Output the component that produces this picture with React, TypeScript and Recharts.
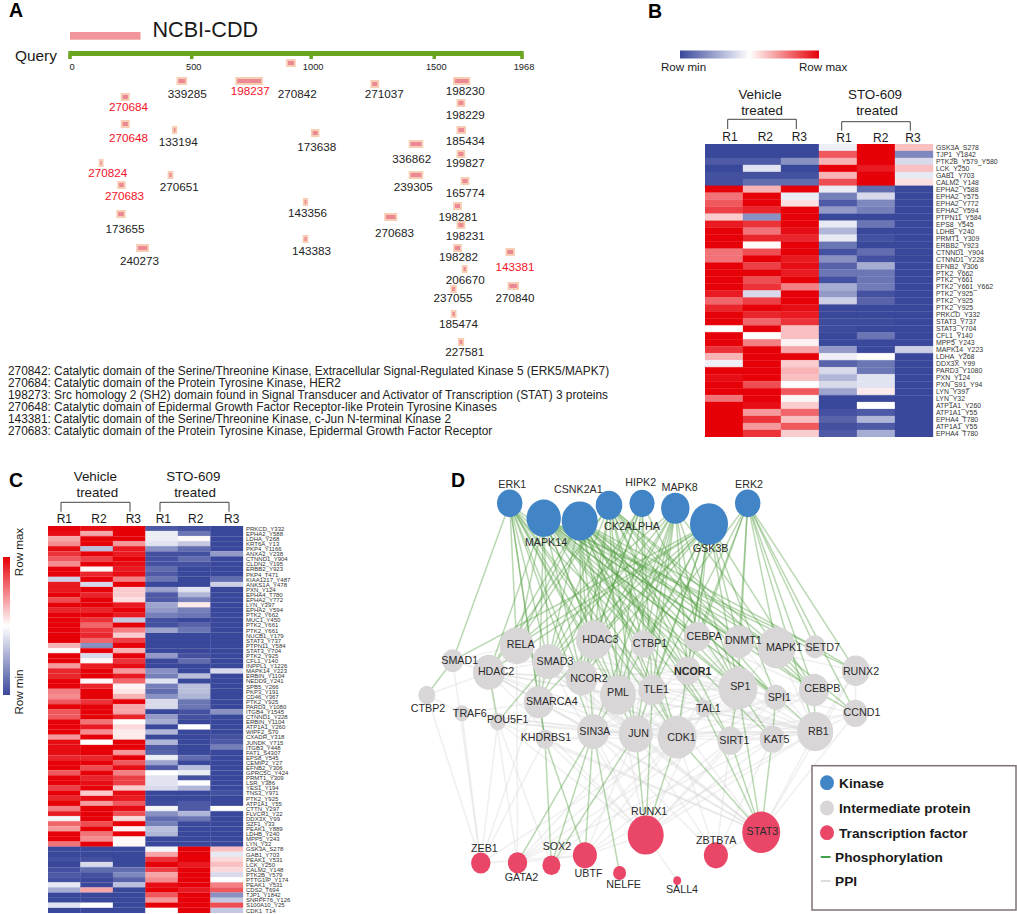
import { BarChart, Bar, Cell, XAxis, YAxis, ScatterChart, Scatter, ReferenceArea, ReferenceLine } from "recharts";

const FONT = "'Liberation Sans', Arial, sans-serif";

// panel A - CDD hits, positions in residues along the query
const rulerTicks = [0, 530, 1050, 1586, 1968];
const rulerLabels = ["0", "500", "1000", "1500", "1968"];
const hitIds = ["339285", "198237", "270842", "271037", "198230", "270684", "198229", "270648", "133194", "173638", "185434", "336862", "199827", "270824", "270651", "239305", "270683", "165774", "143356", "198281", "173655", "270683", "198231", "143383", "240273", "198282", "143381", "206670", "237055", "270840", "185474", "227581"];
const hitStart = [464, 720, 941, 1308, 1668, 221, 1683, 221, 444, 1049, 1683, 1475, 1683, 125, 425, 1475, 206, 1701, 1014, 1668, 202, 1368, 1683, 1013, 288, 1668, 1896, 1706, 1656, 1905, 1658, 1689];
const hitEnd = [510, 840, 983, 1346, 1743, 260, 1721, 260, 467, 1086, 1724, 1538, 1721, 146, 450, 1538, 242, 1739, 1037, 1706, 242, 1425, 1721, 1038, 344, 1706, 1937, 1731, 1683, 1955, 1683, 1716];
const hitTrack = [81, 81, 63, 84, 81, 97, 103, 124, 130, 133, 130, 144, 154, 163, 175, 175, 185, 181, 202, 206, 214, 217, 225, 239, 248, 248, 252, 269, 289, 286, 314, 342];
const hitLabelX = [510, 785, 989, 1368, 1721, 255, 1721, 255, 471, 1074, 1721, 1488, 1721, 164, 476, 1494, 237, 1721, 1034, 1689, 239, 1413, 1721, 1052, 303, 1692, 1938, 1721, 1668, 1938, 1692, 1719];
const hitLabelY = [93, 90, 93, 93, 90, 106, 114, 137, 141, 146, 140, 158, 162, 172, 186, 186, 195, 192, 212, 216, 228, 232, 235, 250, 260, 256, 266, 279, 297, 297, 323, 351];
const redHits = [1, 5, 7, 13, 16, 26];
const notes = [
  "270842: Catalytic domain of the Serine/Threonine Kinase, Extracellular Signal-Regulated Kinase 5 (ERK5/MAPK7)",
  "270684: Catalytic domain of the Protein Tyrosine Kinase, HER2",
  "198273: Src homology 2 (SH2) domain found in Signal Transducer and Activator of Transcription (STAT) 3 proteins",
  "270648: Catalytic domain of Epidermal Growth Factor Receptor-like Protein Tyrosine Kinases",
  "143381: Catalytic domain of the Serine/Threonine Kinase, c-Jun N-terminal Kinase 2",
  "270683: Catalytic domain of the Protein Tyrosine Kinase, Epidermal Growth Factor Receptor",
];

// panel B heatmap, columns are vehicle R1-R3 then STO-609 R1-R3
const sitesB = ["GSK3A_S278", "TJP1_Y1842", "PTK2B_Y579_Y580", "LCK_Y250", "GAB1_Y703", "CALM2_Y148", "EPHA2_Y588", "EPHA2_Y575", "EPHA2_Y772", "EPHA2_Y594", "PTPN11_Y584", "EPS8_Y545", "LDHB_Y240", "PRMT1_Y309", "ERBB2_Y923", "CTNND1_Y904", "CTNND1_Y228", "EFNB2_Y306", "PTK2_Y662", "PTK2_Y661", "PTK2_Y661_Y662", "PTK2_Y925", "PTK2_Y925", "PTK2_Y925", "PRKCD_Y332", "STAT3_Y737", "STAT3_Y704", "CFL1_Y140", "MPP5_Y243", "MAPK14_Y223", "LDHA_Y268", "DDX3X_Y99", "PARD3_Y1080", "PXN_Y124", "PXN_S91_Y94", "LYN_Y397", "LYN_Y32", "ATP1A1_Y260", "ATP1A1_Y55", "EPHA4_T780", "ATP1A1_Y55", "EPHA4_T780"];
const heatB = [
  [-1, -1, -1, -0.08, 1, 0.25], [-1, -1, -1, 0.65, 1, -0.65], [-0.9, -0.9, -0.6, 0.3, 1, -0.2], [-1, -0.15, -1, 1, 0.9, 0.25], [-0.95, -0.95, -0.95, 0.3, 1, -0.12], [-0.95, -0.8, -0.8, 0.7, 1, 0.12],
  [1, 0.3, 1, -0.1, -0.8, -1], [0.55, 1, -0.1, -0.7, -0.2, -1], [0.65, 1, 0.12, -0.9, -0.65, -1], [0.75, 0.85, 1, -0.55, -0.7, -1], [0.2, -0.6, 1, -1, -1, -1], [0.9, 0.8, 1, -0.12, -0.75, -1],
  [1, 0.55, 0.95, -0.4, -1, -1], [1, 0.85, 0.85, -0.12, -0.95, -1], [1, 0.02, 1, -0.75, -1, -1], [0.55, 0.7, 1, -0.95, -0.8, -1], [0.55, 1, 0.9, -0.6, -0.95, -1], [1, 0.75, 0.95, -0.85, -0.45, -1],
  [1, 1, 0.9, -0.75, -0.75, -1], [1, 0.7, 1, -0.95, -0.75, -1], [1, 0.8, 0.5, -0.45, -0.72, -1], [0.9, -0.2, 1, -0.55, -0.95, -1], [0.6, 0.75, 1, -0.25, -0.85, -1], [0.85, 1, 0.95, -1, -1, -1],
  [1, 0.85, 0.9, -1, -1, -1], [1, 0.6, 0.8, -0.98, -0.98, -1], [0, 1, 0.25, -0.98, -1, -1], [1, 0, 0.25, -1, -0.75, -1], [1, 0.5, 0.05, -1, -1, -1], [0.8, 1, 0.35, -0.55, -1, -0.25],
  [0.3, 1, 1, -0.08, 0, -1], [-0.08, 1, 0.2, -0.85, -0.75, -1], [1, 1, 0.3, -0.2, -0.75, -1], [0.95, 1, 0.25, -0.4, -0.15, -1], [1, 0.7, 0, -0.2, -0.15, -1], [1, 1, 0.65, -0.5, 0.08, -1],
  [0.55, 1, 0.03, -1, -1, -1], [1, 0.95, 0.2, -1, 0, -1], [1, 0.4, 0.6, -0.95, -0.9, -1], [1, 0.8, 0.25, -0.85, -0.4, -1], [1, 0.4, 0.65, -0.95, -0.9, -1], [1, 0.8, 0.2, -0.9, -0.45, -1],
];

// panel C heatmap
const sitesC = ["PRKCD_Y332", "EPHA2_Y588", "LDHA_Y268", "KRT6A_Y13", "PKP4_Y1166", "ANXA2_Y238", "CTNND1_Y904", "CLDN2_Y195", "ERBB2_Y923", "PKP4_T471", "KIAA1217_Y487", "ANKS1A_Y478", "PXN_Y124", "EPHA4_T780", "EPHA2_Y772", "LYN_Y397", "EPHA2_Y594", "PTK2_Y662", "MUC1_Y450", "PTK2_Y661", "PTK2_Y661", "NUCB1_Y179", "STAT3_Y737", "PTPN11_Y584", "STAT3_Y704", "PTK2_Y925", "CFL1_Y140", "INPPL1_Y1226", "MAPK14_Y223", "ERBIN_Y1104", "NEDD9_Y241", "SPB5_Y266", "PKP3_Y191", "CD46_Y367", "PTK2_Y925", "PARD3_Y1080", "ITGB4_Y1545", "CTNND1_Y228", "ERBIN_Y1104", "ATP1A1_Y260", "WIPF2_S70", "CXADR_Y318", "JUNDK_Y715", "ITGB3_Y448", "FAT1_S4307", "EPS8_Y545", "CEMIP2_Y27", "EFNB2_Y306", "GPRC5C_Y424", "PRMT1_Y309", "LSR_Y386", "YES1_Y194", "TNS3_Y971", "PTK2_Y925", "ATP1A1_Y55", "CTTN_Y297", "FLVCR1_Y22", "DDX3X_Y99", "SZF1_Y33", "PEAK1_Y889", "LDHB_Y240", "MPP5_Y243", "LYN_Y32", "GSK3A_S278", "GAB1_Y703", "PEAK1_Y531", "LCK_Y250", "CALM2_Y148", "PTK2B_Y579", "PTTG1IP_Y174", "PEAK1_Y531", "CDS2_T694", "TJP1_Y1842", "SNRPF76_Y126", "S100A10_Y25", "CDK1_T14"];
const heatC = [
  [1, 0.95, 1, -0.9, -0.95, -1], [0.95, 0.35, 1, -0.1, -0.75, -1], [0.35, 1, 1, -0.1, 0.02, -1], [0.45, 1, 0.4, -0.15, -0.3, -1], [0.95, -0.35, 0.9, -0.6, -0.8, -1], [0.8, 1, 0.9, -0.95, -0.95, -0.55],
  [0.65, 0.75, 1, -0.95, -0.8, -1], [0.45, 1, 0.95, -0.95, -0.95, -1], [1, 0.03, 0.9, -0.8, -1, -1], [1, 0.85, 0.95, -0.9, -1, -1], [-0.25, 1, 0.5, -0.75, -1, -0.8], [0.9, -0.2, 1, -1, -1, -0.25],
  [0.9, 1, 0.2, -0.5, -0.15, -1], [1, 0.85, 0.2, -0.9, -0.4, -1], [0.7, 1, 0.12, -0.9, -0.7, -1], [1, 1, 0.9, -0.5, 0.08, -1], [0.85, 0.85, 1, -0.55, -0.7, -1], [1, 1, 0.9, -0.7, -0.75, -1],
  [1, 0.8, -0.3, -0.95, -1, -1], [1, 0.6, 1, -0.95, -0.85, -1], [1, 0.8, 0.5, -0.5, -0.75, -1], [1, 0.85, 0.2, -1, -1, -1], [1, 0.6, 0.75, -1, -1, -1], [0.3, -0.6, 1, -1, -1, -1],
  [0, 1, 0.3, -1, -1, -1], [1, -0.2, 1, -0.55, -0.95, -1], [1, 0.03, 0.8, -1, -0.8, -1], [0.4, 0.9, 0.95, -1, -1, -1], [0.85, 1, 0.4, -0.6, -1, -0.2], [0.85, 1, 0.9, -0.7, -0.35, -1],
  [1, 0.03, 0.6, -0.15, -1, -1], [1, 0.85, 0.05, -0.7, -0.35, -1], [0.5, 1, 0.1, -0.8, -0.35, -1], [0.45, 1, 0.3, -0.6, -0.4, -1], [0.65, 0.8, 1, -0.2, -0.75, -1], [1, 1, 0.35, -0.2, -0.75, -1],
  [0.65, 1, 0.35, -1, -0.95, -0.6], [0.65, 1, 0.85, -0.55, -0.95, -1], [1, 0.55, 0, -0.45, -1, -1], [1, 0.9, 0.15, -1, 0, -1], [1, 0.45, 0.08, -0.4, -1, -1], [0.4, 1, 0.08, -1, -1, -0.95],
  [0.95, 0, 1, -0.4, -1, -0.9], [0.95, 1, 1, -0.9, -1, -0.7], [0.95, 1, 0.4, -0.85, -1, -1], [0.85, 0.85, 1, -0.1, -0.8, -1], [1, 1, 0.65, -0.5, -1, -1], [1, 0.7, 0.95, -0.9, -0.35, -1],
  [0.65, 1, 0.5, 0, -0.1, -1], [1, 0.85, 0.75, -0.15, -0.95, -1], [1, 0.95, 0.75, -0.15, 0, -1], [0.75, 1, 0.2, -0.2, -0.4, -1], [1, 0.2, 0.95, -1, -1, -0.95], [0.85, 0.95, 0.9, -1, -1, -1],
  [1, 0.4, 0.65, -0.97, -0.9, -1], [0.5, 1, 0.95, -0.05, -0.9, 0], [0.9, 1, 0.7, -0.6, -0.4, -1], [-0.05, 1, 0.15, -0.8, -0.75, -1], [0.6, 0.7, 1, -0.7, -1, -1], [0.4, 1, 0.05, -0.35, -1, -1],
  [1, 0.55, 1, -0.4, -1, -1], [1, 0.45, 0.03, -1, -1, -1], [0.55, 1, 0.03, -1, -1, -1],
  [-1, -1, -1, -0.05, 1, 0.25], [-1, -1, -1, 0.35, 1, -0.12], [-0.95, -0.95, -1, 0.8, 1, 0.15], [-1, -0.2, -1, 1, 0.9, 0.25], [-0.95, -0.8, -0.8, 0.75, 1, 0.15], [-0.9, -0.95, -0.65, 0.35, 1, -0.2],
  [-0.95, -1, -0.85, 0.45, 1, 0], [-0.12, -1, -0.35, 0.95, 1, 0.5], [-0.45, 0.35, -1, 1, 0.9, 0.65], [-1, -1, -1, 0.65, 1, -0.6], [-1, -1, -1, 0.4, 1, -0.3], [-0.15, 0, -1, 1, 1, 0.7], [-1, -1, -1, 0, 1, -0.3],
];

// panel D network layout
const kinases = ["ERK1", "MAPK14", "CSNK2A1", "CK2ALPHA", "HIPK2", "MAPK8", "GSK3B", "ERK2"];
const kinaseX = [509.7, 543.7, 579.7, 609, 642, 675.3, 709, 747.7];
const kinaseY = [503.3, 518.3, 521, 505.3, 503.3, 508.3, 524, 503.3];
const kinaseR = [12.7, 17.2, 18, 13.3, 12.5, 14.2, 19, 12.7];
const kinaseLabelX = [512.3, 546, 578.3, 632, 640.7, 679.7, 710.7, 749];
const kinaseLabelY = [484, 541.7, 489.3, 525.7, 481.7, 487.3, 548, 484];

const proteins = ["SMAD1", "RELA", "HDAC2", "SMAD3", "HDAC3", "CTBP1", "CEBPA", "DNMT1", "MAPK1", "SETD7", "RUNX2", "NCOR2", "NCOR1", "PML", "TLE1", "SP1", "SPI1", "CEBPB", "SMARCA4", "CTBP2", "TRAF6", "POU5F1", "TAL1", "CCND1", "KHDRBS1", "SIN3A", "JUN", "CDK1", "SIRT1", "KAT5", "RB1"];
const proteinX = [452.7, 516.7, 489, 548.3, 594, 643.3, 697.3, 739, 776.7, 815, 855.7, 581.7, 687.7, 618, 652.4, 738, 775.8, 814, 538.8, 426.8, 461.9, 497.8, 703.6, 855.4, 545, 593.2, 635.8, 677.2, 730.4, 772.2, 815.2];
const proteinY = [660.7, 645.7, 672.3, 661.7, 640, 644, 636.7, 641.7, 647.7, 646.7, 670.7, 678, 670.7, 695, 690, 688.3, 697.3, 690, 702, 695, 713.3, 721.7, 708.3, 713.3, 739.3, 731.7, 734, 737.3, 740.7, 739, 731.7];
const proteinR = [10.5, 17, 16, 16, 18, 12.5, 13.5, 15, 19, 10.5, 14, 16, 13, 18, 14, 19.5, 11.5, 15, 15, 8.5, 7.5, 8, 8, 12.5, 9, 16, 17, 19.5, 13, 12.5, 18];
const proteinLabelX = [459.7, 520.7, 496, 555, 600.3, 650, 704.3, 743.3, 784, 822.7, 861, 589, 692.7, 618, 656.3, 740.3, 779.3, 822.3, 551.8, 428, 469.8, 507.7, 708.4, 862, 545.9, 594.8, 638.6, 681.5, 734.4, 776.6, 818.4];
const proteinLabelY = [660.3, 644.3, 671, 660.7, 638.7, 643, 636.3, 640.3, 646.7, 646.7, 670.7, 678, 670.7, 691.7, 689.3, 686, 697.3, 688.3, 700.7, 708.3, 713.3, 719, 708.3, 712.3, 736.7, 730.7, 732.7, 736.7, 740, 738.7, 731];

const factors = ["RUNX1", "STAT3", "ZBTB7A", "UBTF", "SOX2", "GATA2", "ZEB1", "NELFE", "SALL4"];
const factorX = [645.7, 761.2, 715.9, 584.9, 551.4, 517.5, 480.8, 619.6, 677.2];
const factorY = [835, 832.3, 855.3, 855.3, 865.3, 862.7, 863, 873, 880.7];
const factorR = [18, 19, 12, 12, 9, 9.7, 9.7, 6.5, 4];
const factorLabelX = [649.2, 762.4, 716.3, 588.5, 556.9, 521.5, 484.4, 623.6, 682];
const factorLabelY = [810.7, 830.7, 840.3, 873.3, 846.3, 876.7, 847.7, 884.3, 889];

const phosphoEdges = [
  "ERK1 SMAD1", "ERK1 RELA", "ERK1 SMAD3", "ERK1 HDAC3", "ERK1 NCOR2", "ERK1 PML", "ERK1 SMARCA4", "ERK1 TLE1", "ERK1 CTBP1", "ERK1 SIN3A", "ERK1 JUN", "ERK1 SP1", "ERK1 CDK1", "ERK1 KHDRBS1",
  "MAPK14 HDAC2", "MAPK14 RELA", "MAPK14 SMAD3", "MAPK14 HDAC3", "MAPK14 NCOR2", "MAPK14 PML", "MAPK14 TLE1", "MAPK14 CTBP1", "MAPK14 CEBPA", "MAPK14 DNMT1", "MAPK14 MAPK1", "MAPK14 SP1", "MAPK14 CEBPB", "MAPK14 SPI1", "MAPK14 TAL1", "MAPK14 SMARCA4", "MAPK14 RUNX2", "MAPK14 SETD7", "MAPK14 NCOR1", "MAPK14 KAT5",
  "CSNK2A1 RELA", "CSNK2A1 SMAD3", "CSNK2A1 HDAC3", "CSNK2A1 HDAC2", "CSNK2A1 PML", "CSNK2A1 TLE1", "CSNK2A1 CTBP1", "CSNK2A1 NCOR1", "CSNK2A1 CEBPA", "CSNK2A1 DNMT1", "CSNK2A1 MAPK1", "CSNK2A1 SETD7", "CSNK2A1 SP1", "CSNK2A1 CEBPB", "CSNK2A1 SIN3A", "CSNK2A1 JUN", "CSNK2A1 CDK1", "CSNK2A1 RB1", "CSNK2A1 SPI1", "CSNK2A1 SIRT1", "CSNK2A1 NCOR2", "CSNK2A1 TAL1",
  "CK2ALPHA RELA", "CK2ALPHA SMAD3", "CK2ALPHA HDAC3", "CK2ALPHA NCOR2", "CK2ALPHA PML", "CK2ALPHA CTBP1", "CK2ALPHA NCOR1", "CK2ALPHA DNMT1", "CK2ALPHA MAPK1", "CK2ALPHA SP1", "CK2ALPHA SPI1", "CK2ALPHA CEBPB", "CK2ALPHA SIRT1", "CK2ALPHA HDAC2", "CK2ALPHA CDK1", "CK2ALPHA JUN",
  "HIPK2 SMAD3", "HIPK2 HDAC3", "HIPK2 CTBP1", "HIPK2 TLE1", "HIPK2 PML", "HIPK2 SP1", "HIPK2 SMARCA4", "HIPK2 NCOR2",
  "MAPK8 RELA", "MAPK8 HDAC3", "MAPK8 NCOR2", "MAPK8 CTBP1", "MAPK8 CEBPA", "MAPK8 NCOR1", "MAPK8 MAPK1", "MAPK8 TLE1", "MAPK8 SP1", "MAPK8 JUN", "MAPK8 SMAD3", "MAPK8 PML", "MAPK8 SIN3A",
  "GSK3B SMAD1", "GSK3B RELA", "GSK3B SMAD3", "GSK3B HDAC3", "GSK3B CTBP1", "GSK3B NCOR1", "GSK3B CEBPA", "GSK3B DNMT1", "GSK3B TLE1", "GSK3B SP1", "GSK3B SPI1", "GSK3B CEBPB", "GSK3B JUN", "GSK3B HDAC2", "GSK3B NCOR2", "GSK3B PML", "GSK3B CDK1", "GSK3B SMARCA4",
  "ERK2 CTBP1", "ERK2 CEBPA", "ERK2 NCOR1", "ERK2 DNMT1", "ERK2 MAPK1", "ERK2 SETD7", "ERK2 RUNX2", "ERK2 CEBPB", "ERK2 SP1", "ERK2 CCND1", "ERK2 RB1", "ERK2 TLE1",
  "SMAD1 CTBP2", "SMAD3 POU5F1", "HDAC2 POU5F1", "SMARCA4 KHDRBS1", "SMAD3 SMARCA4", "PML SIN3A", "TLE1 CDK1", "SP1 SIRT1", "SP1 KAT5", "SPI1 KAT5", "CEBPB RB1", "MAPK1 CCND1", "MAPK1 CEBPB", "SETD7 RUNX2", "CEBPB CCND1",
  "SIN3A GATA2", "SIN3A SOX2", "KHDRBS1 SOX2", "KHDRBS1 UBTF", "SIN3A UBTF", "SIN3A NELFE", "JUN SOX2", "JUN RUNX1", "TLE1 RUNX1", "CDK1 STAT3", "SIRT1 STAT3", "KAT5 STAT3", "TAL1 STAT3", "SP1 STAT3", "CDK1 RUNX1",
];

const ppiEdges = [
  "SMAD1 HDAC2", "SMAD1 RELA", "SMAD1 SMAD3", "RELA HDAC2", "RELA SMAD3", "RELA NCOR2", "HDAC2 SMAD3", "HDAC2 NCOR2", "HDAC2 PML", "HDAC2 SMARCA4", "HDAC2 SIN3A", "HDAC2 CDK1", "HDAC3 NCOR2", "HDAC3 NCOR1", "HDAC3 SIN3A", "HDAC3 TLE1", "NCOR2 SIN3A", "NCOR1 SIN3A", "NCOR1 NCOR2", "NCOR1 CDK1", "NCOR1 SP1",
  "CEBPA CEBPB", "CEBPA SP1", "CEBPA RUNX2", "DNMT1 SP1", "DNMT1 SIRT1", "DNMT1 RB1", "MAPK1 RB1", "MAPK1 SP1", "RUNX2 CEBPB", "RUNX2 RB1", "RUNX2 CCND1", "SP1 RB1", "SP1 CDK1", "SP1 JUN", "SP1 SPI1", "CEBPB SIRT1", "CCND1 CDK1", "CCND1 RB1", "RB1 CDK1", "RB1 KAT5", "RB1 SIRT1", "RB1 JUN",
  "SMARCA4 SIN3A", "SMARCA4 RB1", "SMARCA4 JUN", "CTBP2 HDAC2", "CTBP2 ZEB1", "CTBP2 TRAF6", "TRAF6 ZEB1", "TRAF6 JUN", "TRAF6 CDK1", "POU5F1 SOX2", "POU5F1 STAT3", "POU5F1 ZEB1", "POU5F1 RUNX1", "KHDRBS1 STAT3", "KHDRBS1 ZEB1", "KHDRBS1 RUNX1", "SIN3A STAT3", "SIN3A RUNX1", "SIN3A ZBTB7A", "JUN STAT3", "JUN ZBTB7A", "JUN GATA2", "JUN UBTF", "CDK1 UBTF", "CDK1 ZBTB7A", "CDK1 ZEB1", "CDK1 SOX2", "SIRT1 ZBTB7A", "SIRT1 RUNX1", "SIRT1 UBTF", "KAT5 RUNX1", "KAT5 GATA2", "KAT5 ZBTB7A", "RB1 STAT3", "RB1 RUNX1", "RB1 UBTF", "CCND1 STAT3", "RUNX2 STAT3", "SMAD3 STAT3", "SMAD3 RUNX1", "SMAD3 ZEB1", "HDAC2 STAT3", "HDAC2 RUNX1", "HDAC2 GATA2", "RUNX1 SALL4", "RUNX1 UBTF", "GATA2 UBTF", "ZEB1 UBTF", "SMAD1 ZEB1", "RELA STAT3", "RELA GATA2", "PML RUNX1", "TLE1 STAT3", "TAL1 GATA2", "TAL1 RUNX1", "SPI1 RUNX1", "SPI1 GATA2", "ZBTB7A STAT3",
  "RELA SP1", "RELA JUN", "RELA CDK1", "RELA RB1", "HDAC2 JUN", "HDAC2 RB1", "HDAC2 SP1", "SMAD3 JUN", "SMAD3 SP1", "SMAD3 CDK1", "SMAD3 RB1", "NCOR2 RB1", "NCOR2 JUN", "PML SP1", "PML RB1", "PML JUN", "PML CDK1", "TLE1 SP1", "TLE1 JUN", "HDAC3 SP1", "HDAC3 RB1", "HDAC3 CDK1", "CTBP1 SP1", "CTBP1 SIN3A", "CTBP1 JUN", "CEBPA JUN", "CEBPA CDK1", "CEBPA RB1", "DNMT1 CDK1", "DNMT1 JUN", "SPI1 JUN", "CEBPB JUN", "CEBPB CDK1", "SIN3A JUN", "SIN3A RB1", "SIN3A SP1", "JUN CDK1", "CDK1 SIRT1", "SIRT1 KAT5", "KHDRBS1 JUN", "KHDRBS1 CDK1", "TRAF6 SMARCA4", "POU5F1 SIN3A", "POU5F1 JUN", "CCND1 SP1", "CCND1 SIRT1",
];

const HEAT_RED = [230, 0, 8];
const HEAT_BLUE = [58, 72, 155];
const heatColor = (v: number) => {
  const end = v >= 0 ? HEAT_RED : HEAT_BLUE;
  const t = Math.abs(v);
  const c = end.map((e) => Math.round(255 + (e - 255) * t));
  return `rgb(${c[0]},${c[1]},${c[2]})`;
};

const columns = ["c0", "c1", "c2", "c3", "c4", "c5"];

function Heatmap({ sites, heat, left, top, width, height, labelWidth, fontSize }: any) {
  const table = sites.map((_: string, i: number) => ({ row: i, c0: 1, c1: 1, c2: 1, c3: 1, c4: 1, c5: 1 }));
  return (
    <div style={{ position: "absolute", left, top }}>
      <BarChart width={width + labelWidth} height={height} data={table} layout="vertical" barCategoryGap={0} margin={{ top: 0, right: 0, bottom: 0, left: 0 }}>
        <XAxis type="number" domain={[0, 6]} hide />
        <YAxis
          type="category"
          dataKey="row"
          orientation="right"
          width={labelWidth}
          interval={0}
          axisLine={false}
          tickLine={false}
          tickSize={0}
          tickMargin={3}
          tick={{ fontSize, fill: "#333", fontFamily: FONT, textAnchor: "start" }}
          tickFormatter={(i: number) => sites[i]}
        />
        {columns.map((key, j) => (
          <Bar key={key} dataKey={key} stackId="heat" isAnimationActive={false}>
            {heat.map((row: number[], i: number) => (
              <Cell key={i} fill={heatColor(row[j])} stroke={heatColor(row[j])} strokeWidth={0.3} />
            ))}
          </Bar>
        ))}
      </BarChart>
    </div>
  );
}

function labelShape(size: number, color: any) {
  return (p: any) => (
    <text x={p.cx} y={p.cy} textAnchor="middle" dominantBaseline="central" fontSize={size} fontFamily={FONT} fontWeight={p.payload.name === "NCOR1" ? 700 : 400} fill={color(p.payload)}>
      {p.payload.name}
    </text>
  );
}

const hitLabels = hitIds.map((name, i) => ({ name, x: hitLabelX[i], y: hitLabelY[i], red: redHits.includes(i) }));
const rulerPoints = rulerTicks.map((x) => ({ x, y: 0 }));

function PanelA() {
  return (
    <>
      <div style={{ position: "absolute", left: 0, top: 45 }}>
        <ScatterChart width={540} height={32} margin={{ top: 0, right: 18, bottom: 0, left: 70 }}>
          <XAxis
            type="number"
            dataKey="x"
            domain={[0, 1968]}
            ticks={rulerTicks}
            interval={0}
            height={18}
            axisLine={false}
            tickLine={false}
            tickSize={0}
            tickMargin={4}
            tick={{ fontSize: 9.3, fill: "#222", fontFamily: FONT, dx: 2 }}
            tickFormatter={(v: number) => rulerLabels[rulerTicks.indexOf(v)]}
          />
          <YAxis type="number" dataKey="y" domain={[0, 14]} reversed hide />
          <ReferenceArea x1={0} x2={1968} y1={6} y2={11} fill="#6aa51f" fillOpacity={1} stroke="none" />
          {rulerTicks.map((t) => (
            <ReferenceLine key={t} segment={[{ x: t, y: 6 }, { x: t, y: 14 }]} stroke="#6aa51f" strokeWidth={3.5} />
          ))}
          <Scatter data={rulerPoints} isAnimationActive={false} shape={() => <g />} />
        </ScatterChart>
      </div>
      <div style={{ position: "absolute", left: 0, top: 0 }}>
        <ScatterChart width={540} height={365} margin={{ top: 0, right: 18, bottom: 0, left: 70 }}>
          <XAxis type="number" dataKey="x" domain={[0, 1968]} hide />
          <YAxis type="number" dataKey="y" domain={[0, 365]} reversed hide />
          {hitIds.map((id, i) => (
            <ReferenceArea key={`o${i}`} x1={hitStart[i]} x2={hitEnd[i]} y1={hitTrack[i] - 4} y2={hitTrack[i] + 4} fill="#f7cdb4" fillOpacity={1} stroke="none" />
          ))}
          {hitIds.map((id, i) => (
            <ReferenceArea key={`i${i}`} x1={hitStart[i] + 8} x2={hitEnd[i] - 8} y1={hitTrack[i] - 2} y2={hitTrack[i] + 2} fill="#ec8794" fillOpacity={1} stroke="none" />
          ))}
          <Scatter data={hitLabels} isAnimationActive={false} shape={labelShape(11.7, (d: any) => (d.red ? "#f4111f" : "#222"))} />
        </ScatterChart>
      </div>
    </>
  );
}

const allNodes: Record<string, { x: number; y: number }> = {};
kinases.forEach((n, i) => (allNodes[n] = { x: kinaseX[i], y: kinaseY[i] }));
proteins.forEach((n, i) => (allNodes[n] = { x: proteinX[i], y: proteinY[i] }));
factors.forEach((n, i) => (allNodes[n] = { x: factorX[i], y: factorY[i] }));

const kinaseNodes = kinases.map((name, i) => ({ name, x: kinaseX[i], y: kinaseY[i], r: kinaseR[i] }));
const proteinNodes = proteins.map((name, i) => ({ name, x: proteinX[i], y: proteinY[i], r: proteinR[i] }));
const factorNodes = factors.map((name, i) => ({ name, x: factorX[i], y: factorY[i], r: factorR[i] }));
const nodeLabels = [
  ...kinases.map((name, i) => ({ name, x: kinaseLabelX[i], y: kinaseLabelY[i] })),
  ...proteins.map((name, i) => ({ name, x: proteinLabelX[i], y: proteinLabelY[i] })),
  ...factors.map((name, i) => ({ name, x: factorLabelX[i], y: factorLabelY[i] })),
];

const nodeShape = (color: string) => (p: any) => <ellipse cx={p.cx} cy={p.cy} rx={p.payload.r} ry={p.payload.r * 1.09} fill={color} />;

function edgeLines(edges: string[], stroke: string, opacity: number, width: number) {
  return edges.map((e, i) => {
    const [a, b] = e.split(" ");
    return (
      <ReferenceLine
        key={`${e}-${i}`}
        segment={[
          { x: allNodes[a].x, y: allNodes[a].y },
          { x: allNodes[b].x, y: allNodes[b].y },
        ]}
        stroke={stroke}
        strokeOpacity={opacity}
        strokeWidth={width}
      />
    );
  });
}

function PanelD() {
  return (
    <div style={{ position: "absolute", left: 400, top: 460 }}>
      <ScatterChart width={617} height={454} margin={{ top: 0, right: 0, bottom: 0, left: 0 }}>
        <XAxis type="number" dataKey="x" domain={[400, 1017]} hide />
        <YAxis type="number" dataKey="y" domain={[460, 914]} reversed hide />
        {edgeLines(ppiEdges, "#d9d9d9", 0.4, 1.6)}
        {edgeLines(phosphoEdges, "#4f9e3f", 0.4, 1.5)}
        <Scatter data={kinaseNodes} isAnimationActive={false} shape={nodeShape("#4285c6")} />
        <Scatter data={proteinNodes} isAnimationActive={false} shape={nodeShape("#d8d6d7")} />
        <Scatter data={factorNodes} isAnimationActive={false} shape={nodeShape("#ea4768")} />
        <Scatter data={nodeLabels} isAnimationActive={false} shape={labelShape(10.7, () => "#2b2b2b")} />
      </ScatterChart>
    </div>
  );
}

function T({ x, y, size, anchor = "start", weight = 400, color = "#1a1a1a", rotate, children }: any) {
  return (
    <text
      x={x}
      y={y}
      fontSize={size}
      textAnchor={anchor}
      fontWeight={weight}
      fill={color}
      fontFamily={FONT}
      dominantBaseline="central"
      transform={rotate ? `rotate(${rotate} ${x} ${y})` : undefined}
    >
      {children}
    </text>
  );
}

function Bracket({ x1, x2, y1, y2 }: any) {
  return <path d={`M${x1} ${y2}V${y1}H${x2}V${y2}`} fill="none" stroke="#444" strokeWidth={1} />;
}

function Overlay() {
  return (
    <svg width={1017} height={914} style={{ position: "absolute", left: 0, top: 0, pointerEvents: "none" }}>
      <defs>
        <linearGradient id="barB" x1="0" y1="0" x2="1" y2="0">
          <stop offset="0" stopColor="rgb(58,72,155)" />
          <stop offset="0.5" stopColor="#fff" />
          <stop offset="1" stopColor="rgb(230,0,8)" />
        </linearGradient>
        <linearGradient id="barC" x1="0" y1="0" x2="0" y2="1">
          <stop offset="0" stopColor="rgb(230,0,8)" />
          <stop offset="0.5" stopColor="#fff" />
          <stop offset="1" stopColor="rgb(58,72,155)" />
        </linearGradient>
      </defs>

      <T x={9} y={10} size={19.5} weight={700} color="#000">A</T>
      <rect x={70} y={32} width={70.5} height={7.7} fill="#f0959a" />
      <T x={152.5} y={29.5} size={21.6}>NCBI-CDD</T>
      <T x={15} y={55.7} size={15.4}>Query</T>
      {notes.map((n, i) => (
        <T key={i} x={8} y={371 + i * 12} size={11.85} color="#222">{n}</T>
      ))}

      <T x={648} y={11} size={19.5} weight={700} color="#000">B</T>
      <rect x={680} y={50.5} width={139} height={8} fill="url(#barB)" />
      <T x={661} y={66} size={11.6}>Row min</T>
      <T x={799} y={66} size={11.6}>Row max</T>
      <T x={760} y={94} size={13.4} anchor="middle">Vehicle</T>
      <T x={762} y={110.7} size={13.4} anchor="middle">treated</T>
      <T x={875} y={94} size={13.4} anchor="middle">STO-609</T>
      <T x={877} y={110.7} size={13.4} anchor="middle">treated</T>
      <Bracket x1={727.7} x2={796.3} y1={119.3} y2={129} />
      <Bracket x1={841.7} x2={910.3} y1={121.7} y2={130.7} />
      <T x={730} y={136.7} size={12} anchor="middle">R1</T>
      <T x={765.3} y={136.7} size={12} anchor="middle">R2</T>
      <T x={799.3} y={136.7} size={12} anchor="middle">R3</T>
      <T x={844} y={138} size={12} anchor="middle">R1</T>
      <T x={880.7} y={138} size={12} anchor="middle">R2</T>
      <T x={913} y={138} size={12} anchor="middle">R3</T>

      <T x={9} y={480} size={19.5} weight={700} color="#000">C</T>
      <rect x={3} y={557} width={7} height={138} fill="url(#barC)" />
      <T x={18} y={552} size={11.6} anchor="middle" rotate={-90}>Row max</T>
      <T x={18} y={692} size={11.6} anchor="middle" rotate={-90}>Row min</T>
      <T x={95.3} y={476} size={13.4} anchor="middle">Vehicle</T>
      <T x={97.3} y={492.7} size={13.4} anchor="middle">treated</T>
      <T x={193.3} y={476} size={13.4} anchor="middle">STO-609</T>
      <T x={195} y={492.7} size={13.4} anchor="middle">treated</T>
      <Bracket x1={61} x2={130} y1={502.3} y2={511.7} />
      <Bracket x1={160} x2={229} y1={502.3} y2={511.7} />
      <T x={64.3} y={519} size={12} anchor="middle">R1</T>
      <T x={99} y={519} size={12} anchor="middle">R2</T>
      <T x={133.3} y={519} size={12} anchor="middle">R3</T>
      <T x={163.3} y={519} size={12} anchor="middle">R1</T>
      <T x={195.7} y={519} size={12} anchor="middle">R2</T>
      <T x={231.7} y={519} size={12} anchor="middle">R3</T>

      <T x={451} y={480} size={19.5} weight={700} color="#000">D</T>

      <rect x={812} y={765.7} width={204} height={144.3} fill="#fff" stroke="#7e7276" strokeWidth={1.5} />
      <ellipse cx={827} cy={782.7} rx={7} ry={7.4} fill="#4285c6" />
      <ellipse cx={827} cy={808} rx={7} ry={7.4} fill="#d8d6d7" />
      <ellipse cx={827} cy={832.7} rx={7} ry={7.4} fill="#ea4768" />
      <line x1={820.8} x2={830.6} y1={857} y2={857} stroke="#2c9a35" strokeWidth={1.8} />
      <line x1={820.8} x2={830.6} y1={881} y2={881} stroke="#d9d9d9" strokeWidth={1.8} />
      <T x={839} y={783} size={13.7} weight={700}>Kinase</T>
      <T x={839} y={808} size={13.7} weight={700}>Intermediate protein</T>
      <T x={839} y={833} size={13.7} weight={700}>Transcription factor</T>
      <T x={835} y={857.7} size={13.7} weight={700}>Phosphorylation</T>
      <T x={835} y={881.7} size={13.7} weight={700}>PPI</T>
    </svg>
  );
}

export default function App() {
  return (
    <div style={{ position: "absolute", left: 0, top: 0, width: 1017, height: 914, background: "#fff", overflow: "hidden", fontFamily: FONT }}>
      <PanelA />
      <Heatmap sites={sitesB} heat={heatB} left={705} top={144} width={228} height={293} labelWidth={84} fontSize={6.9} />
      <Heatmap sites={sitesC} heat={heatC} left={48} top={526} width={195} height={387} labelWidth={60} fontSize={6} />
      <PanelD />
      <Overlay />
    </div>
  );
}
